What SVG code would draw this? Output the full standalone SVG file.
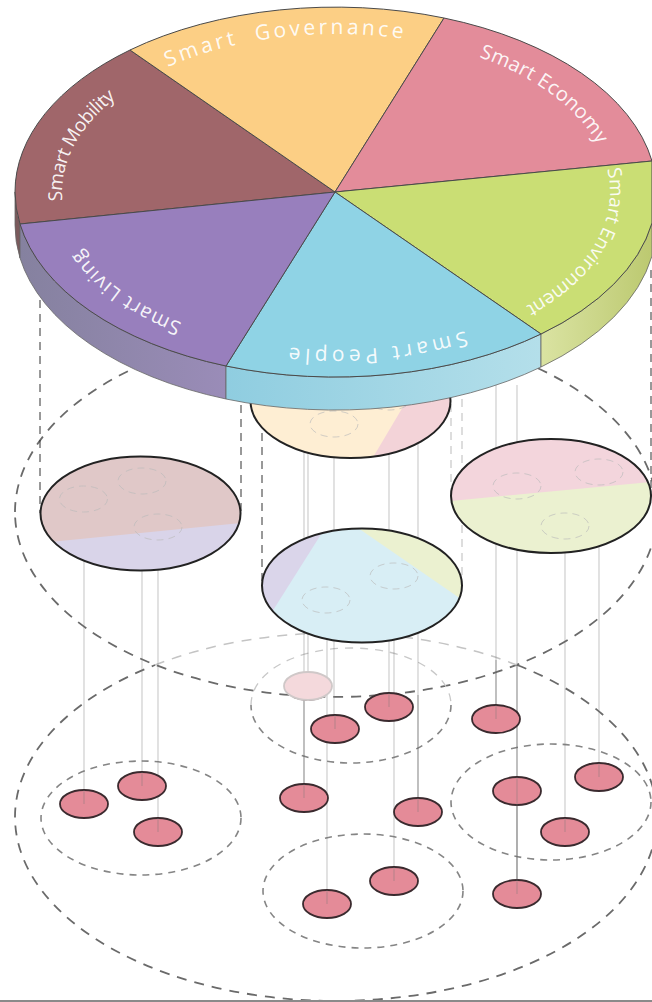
<svg xmlns="http://www.w3.org/2000/svg" width="652" height="1002" viewBox="0 0 652 1002">
<style>
.lbl{font-family:"Open Sans","Liberation Sans",sans-serif;font-size:19px;fill:#fff;fill-opacity:.93;white-space:pre}
.wedge{stroke:#4a4a4a;stroke-width:1}
.wall{stroke:#666;stroke-width:.8}
.big{fill:none;stroke:#6a6a6a;stroke-width:1.8;stroke-dasharray:10 8}
.bigl{fill:none;stroke:#c4c4c4;stroke-width:1.5;stroke-dasharray:10 8}
.mid{fill:none;stroke:#858585;stroke-width:1.6;stroke-dasharray:7 6}
.midl{fill:none;stroke:#c8c8c8;stroke-width:1.3;stroke-dasharray:8 7}
.ring{fill:none;stroke:#222;stroke-width:2}
.sub{fill:none;stroke:#bbb;stroke-opacity:.75;stroke-width:.9;stroke-dasharray:7 5}
.pink{fill:#e48b98;stroke:#3a2a2e;stroke-width:1.8}
.v{stroke:#777;stroke-opacity:.33;stroke-width:1.3;fill:none}
.vd{stroke:#666;stroke-opacity:.55;stroke-width:1;fill:none}
.da{stroke:#333;stroke-width:1;stroke-dasharray:8 6;fill:none}
.dal{stroke:#bbb;stroke-width:1;stroke-dasharray:8 6;fill:none}
</style>
<defs>
<linearGradient id="gP" x1="0" x2="1" y1="0" y2="0"><stop offset="0" stop-color="#85819f"/><stop offset="1" stop-color="#9a8cb8"/></linearGradient>
<linearGradient id="gB" x1="0" x2="1" y1="0" y2="0"><stop offset="0" stop-color="#8fcde0"/><stop offset="1" stop-color="#b4dfea"/></linearGradient>
<linearGradient id="gG" x1="0" x2="1" y1="0" y2="0"><stop offset="0" stop-color="#dae3a2"/><stop offset="1" stop-color="#bcc970"/></linearGradient>
<path id="tGov" d="M168 67A274 158 0 0 1 456 50"/>
<path id="tEco" d="M479 57A274 158 0 0 1 610 192"/>
<path id="tEnv" d="M607 169A274 158 0 0 1 450 336"/>
<path id="tPeo" d="M465 331A274 158 0 0 1 200 329"/>
<path id="tLiv" d="M182 323A274 158 0 0 1 62 192"/>
<path id="tMob" d="M62.500 201A274 158 0 0 1 200 55"/>
</defs>
<rect width="652" height="1002" fill="#fff"/>
<g id="boundaries">
<path class="big" d="M15 512A321 185 0 0 1 657 512A321 185 0 0 1 15 512"/>
<path class="bigl" d="M155 665A321 184 0 0 1 517 665"/>
<path class="big" d="M517 665A321 184 0 1 1 155 665"/>
<path class="midl" d="M251 705C251 672 296 648 351 648C406 648 451 672 451 705"/>
<path class="mid" d="M451 705C451 737 406 763 351 763C296 763 251 737 251 705"/>
<ellipse class="mid" cx="141" cy="818" rx="100" ry="57"/>
<ellipse class="mid" cx="363" cy="891" rx="100" ry="57"/>
<ellipse class="mid" cx="551" cy="802" rx="100" ry="58"/>
</g>
<g id="connectors">
<path class="da" d="M40 300V513M241 405V513M262 405V585M651 270V496"/>
<path class="dal" d="M451 390V496M462 385V585"/>
<path class="v" d="M84 512V804M142 494V514M142 540V786M158 540V832M304 405V798M308 405V686M334 437V729M327 613V904M389 405V707M394 589V881M418 405V812M496 385V719M517 385V894M565 540V832M599 485V777"/>
<path class="vd" d="M304 700V784M418 695V798M517 665V777M517 805V880M496 660V705"/>
</g>
<g id="circle-left">
<clipPath id="c1"><ellipse cx="140.500" cy="513.500" rx="100" ry="57"/></clipPath>
<g clip-path="url(#c1)"><rect x="40" y="456" width="202" height="116" fill="#e0c8c8"/><path d="M40 543L241 523V572H40Z" fill="#d9d4e9"/></g>
<ellipse class="ring" cx="140.500" cy="513.500" rx="100" ry="57"/>
<ellipse class="sub" cx="83.500" cy="499" rx="24" ry="13"/><ellipse class="sub" cx="142" cy="481" rx="24" ry="13"/><ellipse class="sub" cx="158" cy="527" rx="24" ry="13"/>
</g>
<g id="circle-top">
<clipPath id="c2"><ellipse cx="350.500" cy="401" rx="100" ry="57"/></clipPath>
<g clip-path="url(#c2)"><rect x="250" y="344" width="202" height="116" fill="#feeed3"/><path d="M372 459L410 395H452V459Z" fill="#f3d3d8"/></g>
<ellipse class="ring" cx="350.500" cy="401" rx="100" ry="57"/>
<ellipse class="sub" cx="334" cy="424" rx="24" ry="13"/><ellipse class="sub" cx="389" cy="397" rx="24" ry="13"/>
</g>
<g id="circle-bottom">
<clipPath id="c3"><ellipse cx="362" cy="585.500" rx="100" ry="57"/></clipPath>
<g clip-path="url(#c3)"><rect x="261" y="528" width="202" height="116" fill="#d8eef5"/><path d="M272 612L325 528H261V612Z" fill="#dad5ea"/><path d="M358 528L461 599L463 528Z" fill="#ebf1d0"/></g>
<ellipse class="ring" cx="362" cy="585.500" rx="100" ry="57"/>
<ellipse class="sub" cx="326" cy="600" rx="24" ry="13"/><ellipse class="sub" cx="394" cy="576" rx="24" ry="13"/>
</g>
<g id="circle-right">
<clipPath id="c4"><ellipse cx="551" cy="496" rx="100" ry="57"/></clipPath>
<g clip-path="url(#c4)"><rect x="450" y="438" width="202" height="116" fill="#f3d5dc"/><path d="M450 501L652 482V554H450Z" fill="#ebf1d0"/></g>
<ellipse class="ring" cx="551" cy="496" rx="100" ry="57"/>
<ellipse class="sub" cx="517" cy="486" rx="24" ry="13"/><ellipse class="sub" cx="599" cy="472" rx="24" ry="13"/><ellipse class="sub" cx="565" cy="526" rx="24" ry="13"/>
</g>
<g id="disc-sides">
<path class="wall" fill="#7b5a5c" d="M15 192A321 185 0 0 0 20 224V258A321 185 0 0 1 15 225Z"/>
<path class="wall" fill="url(#gP)" d="M20 224A321 185 0 0 0 226 366V399A321 185 0 0 1 20 258Z"/>
<path class="wall" fill="url(#gB)" d="M226 366A321 185 0 0 0 541 334V367A321 185 0 0 1 226 399Z"/>
<path class="wall" fill="url(#gG)" d="M541 334A321 185 0 0 0 652 223V256A321 185 0 0 1 541 367Z"/>
</g>
<g id="smart-mobility"><path class="wedge" fill="#a0666a" d="M335 192L130 50A321 185 0 0 0 15 192A321 185 0 0 0 20 224Z"/><text class="lbl" style="letter-spacing:-.6px"><textPath href="#tMob">Smart Mobility</textPath></text></g>
<g id="smart-governance"><path class="wedge" fill="#fccf85" d="M335 192L444 18A321 185 0 0 0 130 50Z"/><text class="lbl" style="font-size:21px;letter-spacing:3.2px"><textPath href="#tGov">Smart  Governance</textPath></text></g>
<g id="smart-economy"><path class="wedge" fill="#e38c9a" d="M335 192L652 161A321 185 0 0 0 444 18Z"/><text class="lbl" style="font-size:20px;letter-spacing:.3px"><textPath href="#tEco">Smart Economy</textPath></text></g>
<g id="smart-environment"><path class="wedge" fill="#cade74" d="M335 192L541 334A321 185 0 0 0 652 223L652 161Z"/><text class="lbl"><textPath href="#tEnv">Smart Environment</textPath></text></g>
<g id="smart-people"><path class="wedge" fill="#8fd3e5" d="M335 192L226 366A321 185 0 0 0 541 334Z"/><text class="lbl" style="font-size:21px;letter-spacing:4.200px"><textPath href="#tPeo">Smart People</textPath></text></g>
<g id="smart-living"><path class="wedge" fill="#987fbd" d="M335 192L20 224A321 185 0 0 0 226 366Z"/><text class="lbl" style="font-size:20px;letter-spacing:1.100px"><textPath href="#tLiv">Smart Living</textPath></text></g>
<g id="items">
<path d="M293 697Q308 703 323 697" fill="none" stroke="#3a2a2e" stroke-width="1.8"/>
<ellipse cx="308" cy="686" rx="24" ry="14" fill="#f4d9dc" stroke="#cfc8c8" stroke-width="1.8"/>
<g id="p1"><ellipse class="pink" cx="84" cy="804" rx="24" ry="14"/></g>
<g id="p2"><ellipse class="pink" cx="142" cy="786" rx="24" ry="14"/></g>
<g id="p3"><ellipse class="pink" cx="158" cy="832" rx="24" ry="14"/></g>
<g id="p4"><ellipse class="pink" cx="304" cy="798" rx="24" ry="14"/></g>
<g id="p5"><ellipse class="pink" cx="335" cy="729" rx="24" ry="14"/></g>
<g id="p6"><ellipse class="pink" cx="389" cy="707" rx="24" ry="14"/></g>
<g id="p7"><ellipse class="pink" cx="327" cy="904" rx="24" ry="14"/></g>
<g id="p8"><ellipse class="pink" cx="394" cy="881" rx="24" ry="14"/></g>
<g id="p9"><ellipse class="pink" cx="418" cy="812" rx="24" ry="14"/></g>
<g id="p10"><ellipse class="pink" cx="496" cy="719" rx="24" ry="14"/></g>
<g id="p11"><ellipse class="pink" cx="517" cy="791" rx="24" ry="14"/></g>
<g id="p12"><ellipse class="pink" cx="599" cy="777" rx="24" ry="14"/></g>
<g id="p13"><ellipse class="pink" cx="565" cy="832" rx="24" ry="14"/></g>
<g id="p14"><ellipse class="pink" cx="517" cy="894" rx="24" ry="14"/></g>
<path class="v" d="M84 790V804M142 772V786M158 818V832M304 784V798M335 715V729M389 693V707M327 890V904M394 867V881M418 798V812M496 705V719M599 763V777M565 818V832M517 777V894"/>
</g>
<rect x="0" y="1000" width="652" height="2" fill="#8a8a8a"/>
</svg>
